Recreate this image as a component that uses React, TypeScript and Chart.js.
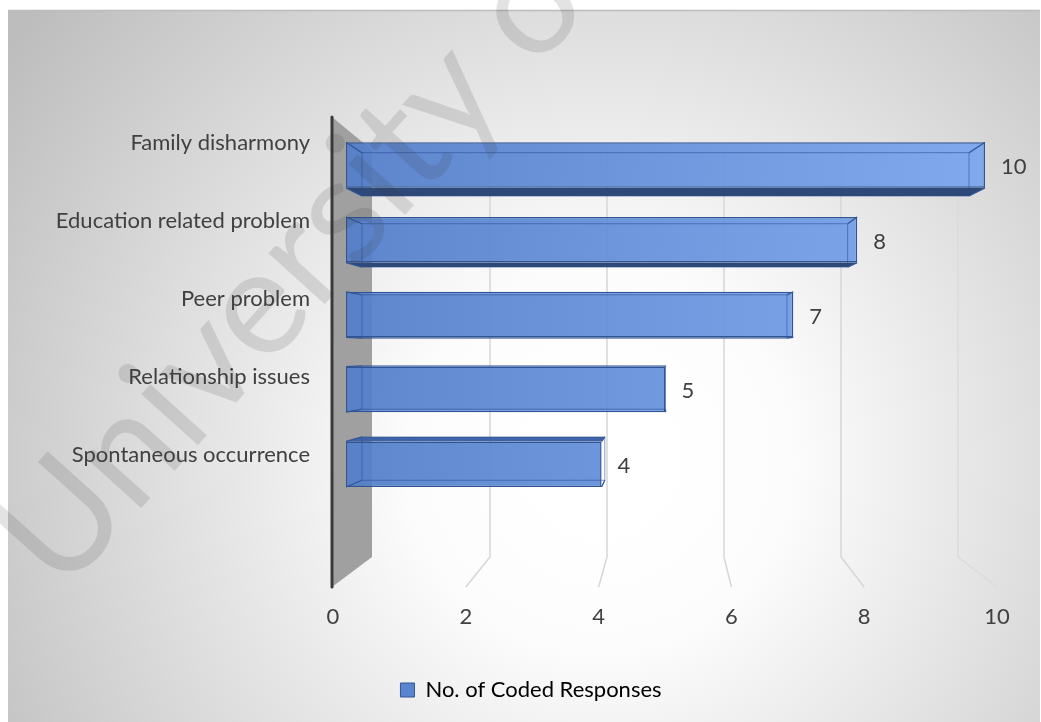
import React, { useEffect, useRef } from "react";
import { Chart, registerables } from "chart.js";

Chart.register(...registerables);

// ---- data ----
const categories = [
  "Family disharmony",
  "Education related problem",
  "Peer problem",
  "Relationship issues",
  "Spontaneous occurrence",
];
const values = [10, 8, 7, 5, 4];
const seriesLabel = "No. of Coded Responses";
const xTicks = [0, 2, 4, 6, 8, 10];
const watermarkText = "University of Malaya";

// ---- style ----
const FONT = "Lato, 'Open Sans', sans-serif";
const TEXT = "#404040";
const CANVAS_W = 1062;
const CANVAS_H = 722;
const BOX = { x0: 8, y0: 10, x1: 1040, y1: 722 };

const BACK_RATIO = 58.5 / 63.9;
const FRONT_RATIO = 66.4 / 63.9;
const K = 0.05;

function geometry(chart: any) {
  const a = chart.chartArea;
  const xs = chart.scales.x;
  const p0 = xs.getPixelForValue(0);
  return {
    a,
    xs,
    p0,
    backX: (v: number) => p0 + 27 + (xs.getPixelForValue(v) - p0) * BACK_RATIO,
    frontX: (v: number) => p0 - 13 + (xs.getPixelForValue(v) - p0) * FRONT_RATIO,
    topF: a.top - 10.6,
    topB: a.top + 22.4,
    botB: a.bottom + 55.4,
    botF: a.bottom + 85.4,
  };
}

function barBoxes(chart: any) {
  const a = chart.chartArea;
  const V = { x: (a.left + a.right) / 2, y: a.top + 0.6 * (a.bottom - a.top) };
  const proj = (px: number, py: number) => [V.x + (px - V.x) * (1 - K), V.y + (py - V.y) * (1 - K)];
  const meta = chart.getDatasetMeta(0);
  return meta.data.map((el: any) => {
    const p = el.getProps(["x", "y", "base", "height"], true);
    const x0 = Math.min(p.base, p.x);
    const x1 = Math.max(p.base, p.x);
    const y0 = p.y - p.height / 2;
    const y1 = p.y + p.height / 2;
    const [bx0, by0] = proj(x0, y0);
    const [bx1, by1] = proj(x1, y1);
    return { x0, x1, y0, y1, bx0, by0, bx1, by1, cy: p.y };
  });
}

const scenePlugin = {
  id: "scene3d",
  beforeDraw(chart: any) {
    const ctx = chart.ctx;
    ctx.save();
    ctx.fillStyle = "#ffffff";
    ctx.fillRect(0, 0, chart.width, chart.height);
    const g = ctx.createRadialGradient(600, 460, 60, 600, 460, 720);
    g.addColorStop(0, "#ffffff");
    g.addColorStop(0.2, "#fcfcfc");
    g.addColorStop(1, "#bdbdbd");
    ctx.fillStyle = g;
    ctx.fillRect(BOX.x0, BOX.y0, BOX.x1 - BOX.x0, BOX.y1 - BOX.y0);
    ctx.strokeStyle = "#bcbcbc";
    ctx.lineWidth = 1.5;
    ctx.beginPath();
    ctx.moveTo(BOX.x0, BOX.y0 + 0.5);
    ctx.lineTo(BOX.x1, BOX.y0 + 0.5);
    ctx.stroke();
    ctx.restore();
  },
  beforeDatasetsDraw(chart: any) {
    const ctx = chart.ctx;
    const G = geometry(chart);
    const ys = chart.scales.y;
    ctx.save();
    // gridlines on back wall and floor
    ctx.lineWidth = 1.5;
    xTicks.forEach((v) => {
      if (v === 0) return;
      ctx.strokeStyle = v === 10 ? "#dcdcdc" : "#d6d6d6";
      ctx.beginPath();
      ctx.moveTo(G.backX(v), G.topB);
      ctx.lineTo(G.backX(v), G.botB);
      ctx.lineTo(G.frontX(v), G.botF);
      ctx.stroke();
    });
    // side wall
    ctx.fillStyle = "#a0a0a0";
    ctx.beginPath();
    ctx.moveTo(G.p0 - 14, G.topF);
    ctx.lineTo(G.p0 + 26, G.topB);
    ctx.lineTo(G.p0 + 26, G.botB);
    ctx.lineTo(G.p0 - 14, G.botF);
    ctx.closePath();
    ctx.fill();
    // axis line
    ctx.strokeStyle = "#3a3a3a";
    ctx.lineWidth = 3;
    ctx.lineCap = "round";
    ctx.beginPath();
    ctx.moveTo(G.p0 - 14, G.topF);
    ctx.lineTo(G.p0 - 14, G.botF);
    ctx.stroke();
    // tick labels
    ctx.fillStyle = TEXT;
    ctx.font = `22px ${FONT}`;
    ctx.textAlign = "center";
    ctx.textBaseline = "middle";
    xTicks.forEach((v) => {
      ctx.fillText(String(v), G.frontX(v), G.botF + 30);
    });
    // category labels
    ctx.textAlign = "right";
    const c0 = ys.getPixelForValue(0);
    categories.forEach((c, i) => {
      const cy = c0 - 22 + (ys.getPixelForValue(i) - c0) * 1.043;
      ctx.fillText(c, G.p0 - 36, cy);
    });
    // hidden faces of 3D bars
    barBoxes(chart).forEach((b: any) => {
      if (b.by1 > b.y1) {
        ctx.fillStyle = "#2e4878";
        ctx.beginPath();
        ctx.moveTo(b.x0, b.y1);
        ctx.lineTo(b.x1, b.y1);
        ctx.lineTo(b.bx1, b.by1);
        ctx.lineTo(b.bx0, b.by1);
        ctx.closePath();
        ctx.fill();
      }
      if (b.by0 < b.y0) {
        ctx.fillStyle = "#3f63a6";
        ctx.beginPath();
        ctx.moveTo(b.x0, b.y0);
        ctx.lineTo(b.x1, b.y0);
        ctx.lineTo(b.bx1, b.by0);
        ctx.lineTo(b.bx0, b.by0);
        ctx.closePath();
        ctx.fill();
      }
    });
    ctx.restore();
  },
  afterDatasetsDraw(chart: any) {
    const ctx = chart.ctx;
    ctx.save();
    barBoxes(chart).forEach((b: any, i: number) => {
      ctx.strokeStyle = "rgba(40,75,150,0.55)";
      ctx.lineWidth = 1;
      ctx.strokeRect(b.bx0, b.by0, b.bx1 - b.bx0, b.by1 - b.by0);
      ctx.strokeStyle = "#2F5597";
      ctx.lineWidth = 1.3;
      ctx.beginPath();
      ctx.moveTo(b.x0, b.y0); ctx.lineTo(b.bx0, b.by0);
      ctx.moveTo(b.x1, b.y0); ctx.lineTo(b.bx1, b.by0);
      ctx.moveTo(b.x1, b.y1); ctx.lineTo(b.bx1, b.by1);
      ctx.moveTo(b.x0, b.y1); ctx.lineTo(b.bx0, b.by1);
      ctx.stroke();
      ctx.fillStyle = TEXT;
      ctx.font = `22px ${FONT}`;
      ctx.textAlign = "left";
      ctx.textBaseline = "middle";
      ctx.fillText(String(values[i]), b.x1 + 16, b.cy + 2);
    });
    ctx.restore();
  },
  afterDraw(chart: any) {
    const ctx = chart.ctx;
    ctx.save();
    ctx.translate(62, 596);
    ctx.rotate((-48 * Math.PI) / 180);
    ctx.font = `150px ${FONT}`;
    ctx.fillStyle = "rgba(60,60,60,0.14)";
    ctx.textAlign = "left";
    ctx.textBaseline = "alphabetic";
    ctx.fillText(watermarkText, 0, 0);
    ctx.restore();
  },
};

export default function App() {
  const ref = useRef<HTMLCanvasElement>(null);
  useEffect(() => {
    const chart = new Chart(ref.current as HTMLCanvasElement, {
      type: "bar",
      data: {
        labels: categories,
        datasets: [
          {
            label: seriesLabel,
            data: values,
            backgroundColor: (c: any) => {
              const a = c.chart.chartArea;
              if (!a) return "#5B84CF";
              const g = c.chart.ctx.createLinearGradient(a.left, 0, a.right, 0);
              g.addColorStop(0, "rgba(82,126,203,0.93)");
              g.addColorStop(1, "rgba(122,165,238,0.93)");
              return g;
            },
            borderColor: "#2F5597",
            borderWidth: 1.5,
            borderSkipped: false,
            barPercentage: 0.61,
            categoryPercentage: 1,
          },
        ],
      },
      options: {
        indexAxis: "y",
        responsive: false,
        devicePixelRatio: 1,
        animation: false,
        layout: { padding: { top: 127.6, bottom: 11, left: 0, right: 0 } },
        scales: {
          x: {
            type: "linear",
            min: 0,
            max: 10,
            position: "bottom",
            ticks: { display: false },
            grid: { display: false },
            border: { display: false },
            afterFit: (s: any) => {
              s.height = 167.4;
            },
          },
          y: {
            type: "category",
            position: "left",
            ticks: { display: false },
            grid: { display: false },
            border: { display: false },
            afterFit: (s: any) => {
              s.width = 346;
            },
          },
          yRight: {
            type: "category",
            position: "right",
            ticks: { display: false },
            grid: { display: false },
            border: { display: false },
            afterFit: (s: any) => {
              s.width = 77;
            },
          },
        },
        plugins: {
          tooltip: { enabled: false },
          legend: {
            display: true,
            position: "bottom",
            labels: {
              color: TEXT,
              font: { family: FONT, size: 22 },
              boxWidth: 14,
              boxHeight: 14,
              padding: 10,
              generateLabels: () => [
                {
                  text: seriesLabel,
                  fillStyle: "#5B84CF",
                  strokeStyle: "#2F5597",
                  lineWidth: 1,
                  hidden: false,
                  datasetIndex: 0,
                },
              ],
            },
          },
        },
      } as any,
      plugins: [scenePlugin],
    });
    return () => chart.destroy();
  }, []);
  return (
    <div
      style={{
        position: "fixed",
        left: 0,
        top: 0,
        width: 1041,
        height: 722,
        overflow: "hidden",
        background: "#fff",
      }}
    >
      <canvas
        ref={ref}
        width={CANVAS_W}
        height={CANVAS_H}
        style={{ display: "block", width: CANVAS_W, height: CANVAS_H }}
      />
    </div>
  );
}
